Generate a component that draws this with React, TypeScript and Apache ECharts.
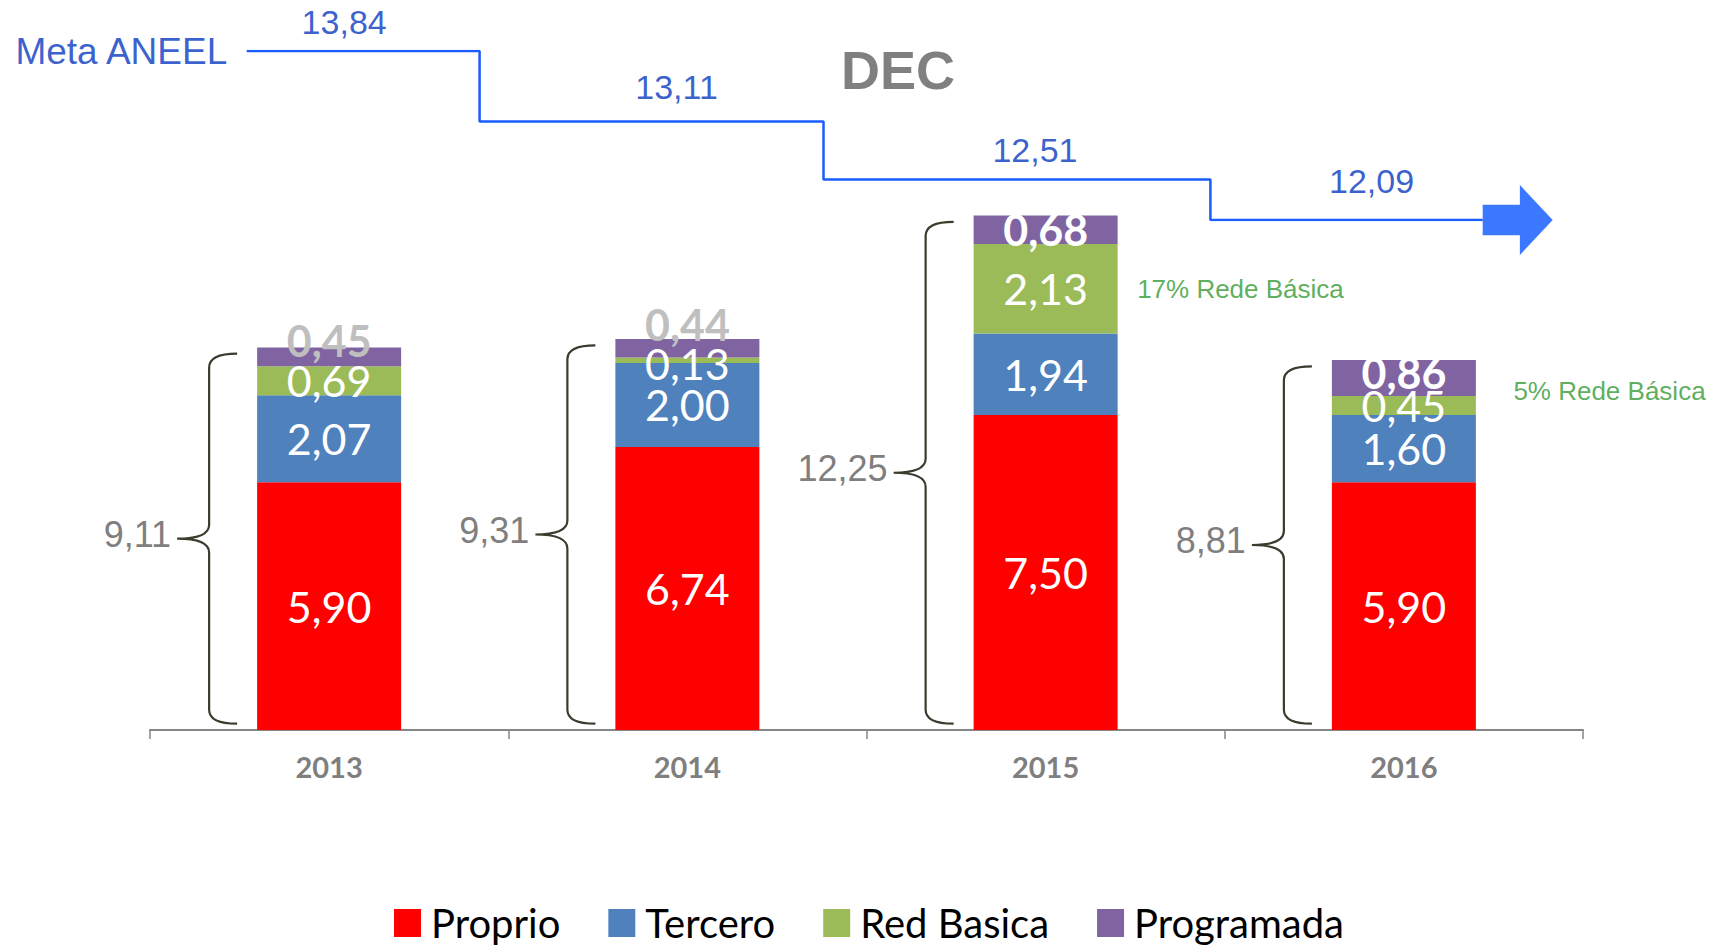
import React, { useEffect, useRef } from "react";
import * as echarts from "echarts";

// ---------- data ----------
const years = ["2013", "2014", "2015", "2016"];
const proprio = [5.9, 6.74, 7.5, 5.9];
const tercero = [2.07, 2.0, 1.94, 1.6];
const redBasica = [0.69, 0.13, 2.13, 0.45];
const programada = [0.45, 0.44, 0.68, 0.86];
const seriesNames = ["Proprio", "Tercero", "Red Basica", "Programada"];
const titleText = "DEC";
const metaName = "Meta ANEEL";
const metaValues = [13.84, 13.11, 12.51, 12.09];
// target periods on a continuous year scale: start of each period, last = end of line
const metaPeriodBounds = [2012.77, 2013.42, 2014.38, 2015.46, 2016.22];
const noteYears = ["2015", "2016"];
const noteText = "Rede Básica";

// ---------- helpers / styles ----------
const fmt = (v: number) => v.toFixed(2).replace(".", ",");
const totals = years.map((_, i) =>
  Math.round((proprio[i] + tercero[i] + redBasica[i] + programada[i]) * 100) / 100
);
const colors = ["#ff0000", "#4f81bd", "#9bbb59", "#8064a2"];
const BAR_W = 144;
const ARIAL = "'Liberation Sans', Arial, sans-serif";
const LATO = "Lato, 'Open Sans', sans-serif";

const barLabel = {
  show: true,
  position: "inside",
  color: "#ffffff",
  fontSize: 43,
  fontFamily: LATO,
  formatter: (p: any) => fmt(p.value),
};

export default function App() {
  const ref = useRef<HTMLDivElement>(null);

  useEffect(() => {
    if (!ref.current) return;
    const chart = echarts.init(ref.current, undefined, { renderer: "svg" });

    const progOffsets = [[0, -16], [0, -24], [0, 0], [0, -6]];
    const progColors = ["#bfbfbf", "#bfbfbf", "#ffffff", "#ffffff"];
    const redOffsets = [[0, 0], [0, 3], [0, 0], [0, 0]];

    const stackData = [
      proprio.map((v) => v),
      tercero.map((v) => v),
      redBasica.map((v, i) => ({ value: v, label: { offset: redOffsets[i] } })),
      programada.map((v, i) => ({
        value: v,
        label: { offset: progOffsets[i], color: progColors[i], fontWeight: "bold" },
      })),
    ];

    const barSeries = seriesNames.map((name, s) => ({
      name,
      type: "bar",
      stack: "dec",
      barWidth: BAR_W,
      xAxisIndex: 0,
      yAxisIndex: 0,
      itemStyle: { color: colors[s] },
      label: barLabel,
      data: stackData[s],
    }));

    const braceSeries = {
      type: "custom",
      name: "totals",
      xAxisIndex: 0,
      yAxisIndex: 0,
      silent: true,
      data: years.map((_, i) => [i, totals[i]]),
      renderItem: (params: any, api: any) => {
        const idx = api.value(0);
        const total = api.value(1);
        const top = api.coord([idx, total - 0.15]);
        const cx = top[0];
        const topY = top[1];
        const botY = api.coord([idx, 0.15])[1];
        const midY = api.coord([idx, total / 2])[1];
        const left = cx - BAR_W / 2;
        const tipX = left - 20;
        const lineX = left - 48;
        const midX = left - 80;
        const r = 14;
        const d =
          `M${tipX},${topY} Q${lineX},${topY} ${lineX},${topY + r} ` +
          `L${lineX},${midY - r} Q${lineX},${midY} ${midX},${midY} ` +
          `Q${lineX},${midY} ${lineX},${midY + r} L${lineX},${botY - r} ` +
          `Q${lineX},${botY} ${tipX},${botY}`;
        return {
          type: "group",
          children: [
            {
              type: "path",
              shape: { pathData: d },
              style: { stroke: "#3b3b2e", lineWidth: 2.2, fill: "none" },
            },
            {
              type: "text",
              style: {
                text: fmt(total),
                x: midX - 6,
                y: midY - 4,
                align: "right",
                verticalAlign: "middle",
                fill: "#7f7f7f",
                fontSize: 36,
                fontFamily: ARIAL,
              },
            },
          ],
        };
      },
    };

    const noteDist = [91, 109];
    const noteOff = [[0, 0], [0, -15]];
    const noteSeries = {
      type: "scatter",
      name: "notes",
      xAxisIndex: 0,
      yAxisIndex: 0,
      symbolSize: 1,
      itemStyle: { color: "transparent" },
      silent: true,
      data: noteYears.map((y, k) => {
        const i = years.indexOf(y);
        return {
          value: [i, proprio[i] + tercero[i] + redBasica[i] / 2],
          pct: Math.round((redBasica[i] / totals[i]) * 100),
          label: { distance: noteDist[k], offset: noteOff[k] },
        };
      }),
      label: {
        show: true,
        position: "right",
        color: "#339933",
        fontSize: 26,
        fontFamily: ARIAL,
        formatter: (p: any) => `${p.data.pct}% ${noteText}`,
      },
    };

    const metaLine = {
      type: "line",
      name: metaName,
      xAxisIndex: 1,
      yAxisIndex: 1,
      step: "end",
      symbol: "none",
      silent: true,
      lineStyle: { color: "#1a5cff", width: 2.5 },
      data: [
        ...metaValues.map((v, i) => [metaPeriodBounds[i], v]),
        [metaPeriodBounds[metaValues.length], metaValues[metaValues.length - 1]],
      ],
    };

    const metaArrow = {
      type: "scatter",
      name: "metaArrow",
      xAxisIndex: 1,
      yAxisIndex: 1,
      silent: true,
      symbol: "path://M0,18 L34,18 L34,0 L64,32 L34,64 L34,46 L0,46 Z",
      symbolSize: [70, 70],
      symbolOffset: [35, 0],
      symbolKeepAspect: true,
      itemStyle: { color: "#0a55ff" },
      data: [[metaPeriodBounds[metaValues.length], metaValues[metaValues.length - 1]]],
    };

    const metaLabelOff = [[-19, 0], [25, -5], [18, 0], [25, -10]];
    const metaLabels = {
      type: "scatter",
      name: "metaLabels",
      xAxisIndex: 1,
      yAxisIndex: 1,
      silent: true,
      symbolSize: 1,
      itemStyle: { color: "transparent" },
      data: metaValues.map((v, i) => ({
        value: [(metaPeriodBounds[i] + metaPeriodBounds[i + 1]) / 2, v],
        label: { offset: metaLabelOff[i] },
      })),
      label: {
        show: true,
        position: "top",
        distance: 12,
        color: "#0638c0",
        fontSize: 34,
        fontFamily: ARIAL,
        formatter: (p: any) => fmt(p.value[1]),
      },
    };

    const metaNameSeries = {
      type: "scatter",
      name: "metaName",
      xAxisIndex: 1,
      yAxisIndex: 1,
      silent: true,
      symbolSize: 1,
      itemStyle: { color: "transparent" },
      data: [[metaPeriodBounds[0], metaValues[0]]],
      label: {
        show: true,
        position: "left",
        distance: 19,
        color: "#0638c0",
        fontSize: 37,
        fontFamily: ARIAL,
        formatter: () => metaName,
      },
    };

    chart.setOption({
      animation: false,
      title: {
        text: titleText,
        left: 836,
        top: 38,
        textStyle: { color: "#808080", fontSize: 54, fontWeight: "bold", fontFamily: ARIAL },
      },
      legend: {
        data: seriesNames,
        left: 394,
        top: 903,
        padding: 0,
        icon: "rect",
        itemWidth: 27,
        itemHeight: 28,
        itemGap: 48,
        textStyle: {
          fontSize: 40,
          lineHeight: 40,
          fontFamily: LATO,
          color: "#000000",
          padding: [0, 0, 0, 5],
        },
      },
      grid: [
        { left: 150, right: 131, top: 142, bottom: 219 },
        { left: 150, right: 131, top: 51, bottom: 729 },
      ],
      xAxis: [
        {
          type: "category",
          gridIndex: 0,
          data: years,
          axisLine: { show: true, lineStyle: { color: "#868686", width: 2 } },
          axisTick: {
            show: true,
            alignWithLabel: false,
            interval: 0,
            inside: false,
            length: 9,
            lineStyle: { color: "#868686", width: 1.5 },
          },
          axisLabel: {
            margin: 22,
            color: "#7f7f7f",
            fontSize: 29,
            fontWeight: "bold",
            fontFamily: LATO,
          },
        },
        { type: "value", gridIndex: 1, min: 2012.5, max: 2016.5, show: false },
      ],
      yAxis: [
        { type: "value", gridIndex: 0, min: 0, max: 14, show: false },
        { type: "value", gridIndex: 1, min: 12.09, max: 13.84, show: false },
      ],
      series: [
        ...barSeries,
        braceSeries,
        noteSeries,
        metaLine,
        metaArrow,
        metaLabels,
        metaNameSeries,
      ],
    });

    return () => chart.dispose();
  }, []);

  return (
    <div
      ref={ref}
      style={{ position: "fixed", left: 0, top: 0, width: 1714, height: 949, background: "#ffffff" }}
    />
  );
}
